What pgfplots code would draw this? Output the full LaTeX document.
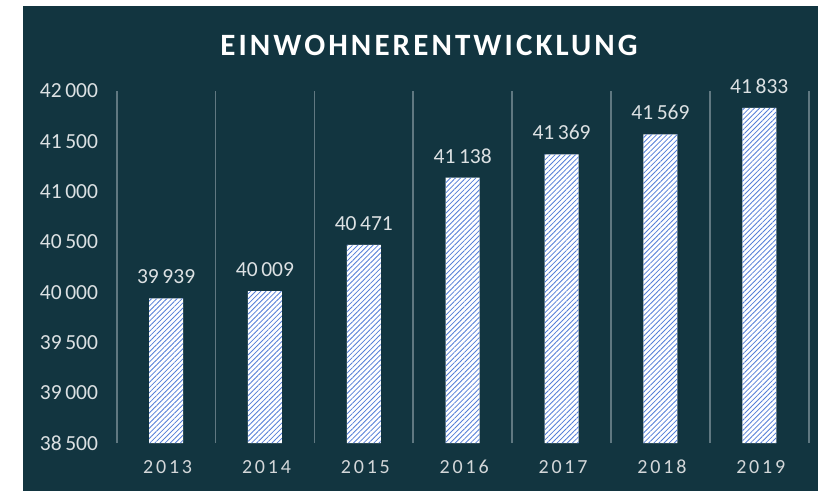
\documentclass[border=0pt]{standalone}
\usepackage{fontspec}
\setmainfont{Carlito}
\usepackage{pgfplots}
\pgfplotsset{compat=1.18}
\usetikzlibrary{patterns.meta}
\definecolor{bg}{RGB}{18,53,64}
\definecolor{txt}{RGB}{220,225,227}
\definecolor{gridc}{RGB}{96,120,129}
\definecolor{barblue}{RGB}{84,126,216}
\begin{document}
\begin{tikzpicture}[x=1pt,y=1pt]
\useasboundingbox (0,0) rectangle (818,491);
\fill[white] (0,0) rectangle (818,491);
\fill[bg] (22.7,0) rectangle (818,485);
\node[text=white, inner sep=0pt, font=\fontsize{31}{31}\selectfont\bfseries\addfontfeature{LetterSpace=10}] at (429,446) {EINWOHNERENTWICKLUNG};
\begin{axis}[
  at={(116.7pt,48pt)}, anchor=south west,
  scale only axis, width=692pt, height=352pt,
  xmin=-0.5, xmax=6.5, ymin=38500, ymax=42000,
  axis line style={draw=none},
  major tick length=0pt, minor tick length=0pt,
  xtick={0,1,2,3,4,5,6},
  xticklabels={2013,2014,2015,2016,2017,2018,2019},
  minor xtick={-0.5,0.5,1.5,2.5,3.5,4.5,5.5,6.5},
  xminorgrids, minor grid style={gridc, line width=1.6pt},
  ytick={38500,39000,39500,40000,40500,41000,41500,42000},
  scaled y ticks=false,
  /pgf/number format/assume math mode=true,
  /pgf/number format/1000 sep={\,},
  yticklabel style={text=txt, font=\fontsize{21.5}{21.5}\selectfont, anchor=east, inner sep=0pt, xshift=-18.5pt, /pgf/number format/fixed},
  xticklabel style={text=txt!90!gray, font=\fontsize{20}{20}\selectfont\addfontfeature{LetterSpace=14}, anchor=base, inner sep=0pt, yshift=-30pt, xshift=1.5pt},
]
\addplot[ybar, bar width=34pt, fill=white, draw=none,
  postaction={pattern={Lines[angle=45,distance=3.6pt,line width=0.8pt]}, pattern color=barblue},
  nodes near coords,
  every node near coord/.append style={text=txt, font=\fontsize{21.5}{21.5}\selectfont, anchor=base, inner sep=0pt, yshift=14.5pt}]
coordinates {(0,39939) (1,40009) (2,40471) (3,41138) (4,41369) (5,41569) (6,41833)};
\end{axis}
\end{tikzpicture}
\end{document}
